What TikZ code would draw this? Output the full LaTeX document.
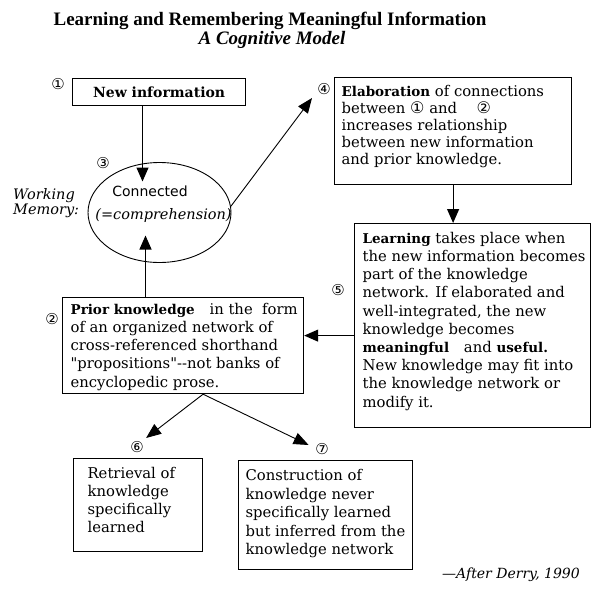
\documentclass[tikz,border=0pt]{standalone}
\usepackage{fontspec}
\setmainfont{DejaVu Serif}
\newfontfamily\circf{DejaVu Sans}
\newfontfamily\sansf{DejaVu Sans}
\newfontfamily\qf{DejaVu Serif}
\newfontfamily\ttlf{Liberation Serif}
\usetikzlibrary{arrows.meta,shapes.geometric,calc}

\newcommand{\bo}[1]{{\fontsize{13.5}{17}\selectfont\bfseries #1}}
\newcommand{\cin}[1]{{\circf\fontsize{16}{17}\selectfont #1}}
\newcommand{\sq}{{\qf"}}
% #1 height, #2 width, #3 left pad, #4 top pad, #5 baselineskip, #6 lines
\newcommand{\boxc}[6]{\parbox[t][#1pt][t]{#2pt}{\fontsize{14.8}{#5}\selectfont\vspace*{#4pt}\hspace*{#3pt}\begin{tabular}{@{}l@{}}#6\end{tabular}}}

\begin{document}
\begin{tikzpicture}[x=1pt,y=-1pt,
  box/.style={draw, line width=1.2pt, anchor=north west, inner sep=0pt},
  arr/.style={line width=1.1pt, -{Triangle[length=14pt,width=12pt]}},
  thinarr/.style={line width=0.9pt, -{Triangle[length=15pt,width=12pt]}},
  num/.style={inner sep=0pt, font=\circf\fontsize{15}{16}\selectfont},
  plain/.style={inner sep=0pt}]

\useasboundingbox (0,0) rectangle (600,597);

% title
\node[plain, anchor=base, font=\ttlf\fontsize{19}{22}\selectfont\bfseries] (title1) at (270,25) {Learning and Remembering Meaningful Information};
\node[plain, anchor=base, font=\ttlf\fontsize{19}{22}\selectfont\bfseries\itshape] (title2) at (272,45) {A Cognitive Model};

% boxes
\node[draw, line width=1.2pt, minimum width=173pt, minimum height=27pt, inner sep=0pt, anchor=north west,
      font=\fontsize{14}{17}\selectfont\bfseries] (newinfo) at (72,78) {New information};

\node[box] (elab) at (334,77) {\boxc{107}{237}{7}{7}{17}{%
\bo{Elaboration} of connections\\
between \cin{①} and \quad\cin{②}\\
increases relationship\\
between new information\\
and prior knowledge.}};

\node[box] (learn) at (354,223) {\boxc{204}{236}{8}{7}{18.2}{%
\bo{Learning} takes place when\\
the new information becomes\\
part of the knowledge\\
network. If elaborated and\\
well-integrated, the new\\
knowledge becomes\\
\bo{meaningful}\quad and \bo{useful.}\\
New knowledge may fit into\\
the knowledge network or\\
modify it.}};

\node[box] (prior) at (62,297) {\boxc{96}{241}{8}{4}{18.2}{%
\bo{Prior knowledge}\quad in the\ \ form\\
of an organized network of\\
cross-referenced shorthand\\
\sq propositions\sq-{}-not banks of\\
encyclopedic prose.}};

\node[box] (retr) at (73,458) {\boxc{93}{129}{14}{7}{18}{%
Retrieval of\\
knowledge\\
specifically\\
learned}};

\node[box] (constr) at (238,460) {\boxc{109}{174}{7}{7}{18.5}{%
Construction of\\
knowledge never\\
specifically learned\\
but inferred from the\\
knowledge network}};

% working memory ellipse
\node[draw, ellipse, line width=0.9pt, minimum width=143pt, minimum height=100pt, inner sep=0pt] (ell) at (159.5,212.5) {};
\node[plain, font=\sansf\fontsize{14}{17}\selectfont] (conn) at (150,191) {Connected};
\node[plain, font=\fontsize{14.5}{17}\selectfont\itshape] (compr) at (163.5,215) {(=comprehension)};
\node[plain, anchor=north west, align=left, font=\fontsize{14.5}{15}\selectfont\itshape] (wm) at (13,188) {Working\\Memory:};

% numbers
\node[num] (n1) at (58,84) {①};
\node[num] (n3) at (103,163) {③};
\node[num] (n4) at (324,89) {④};
\node[num] (n2) at (52,319) {②};
\node[num] (n5) at (338,290) {⑤};
\node[num] (n6) at (137,447) {⑥};
\node[num] (n7) at (322,449) {⑦};

% connectors
\coordinate (t1) at ($(ell.center)+(-17,-31)$);
\draw[arr] (newinfo.south -| t1) -- (t1);
\coordinate (t2) at ($(ell.center)+(-14,23)$);
\draw[arr] (prior.north -| t2) -- (t2);
\coordinate (t3) at ($(elab.north west)+(-22,21)$);
\draw[thinarr] (ell.5) -- (t3);
\draw[arr] (elab.south) -- (elab.south |- learn.north);
\coordinate (s5) at ($(learn.west)+(0,10)$);
\draw[arr] (s5) -- (prior.east |- s5);
\coordinate (s6) at ($(prior.south)+(20,0)$);
\coordinate (t6) at ($(retr.north)+(8,-20)$);
\coordinate (t7) at ($(constr.north)+(-17,-15)$);
\draw[thinarr] (s6) -- (t6);
\draw[thinarr] (s6) -- (t7);

% credit
\node[plain, font=\fontsize{14}{17}\selectfont\itshape] (credit) at (511,575) {—After Derry, 1990};
\end{tikzpicture}
\end{document}
